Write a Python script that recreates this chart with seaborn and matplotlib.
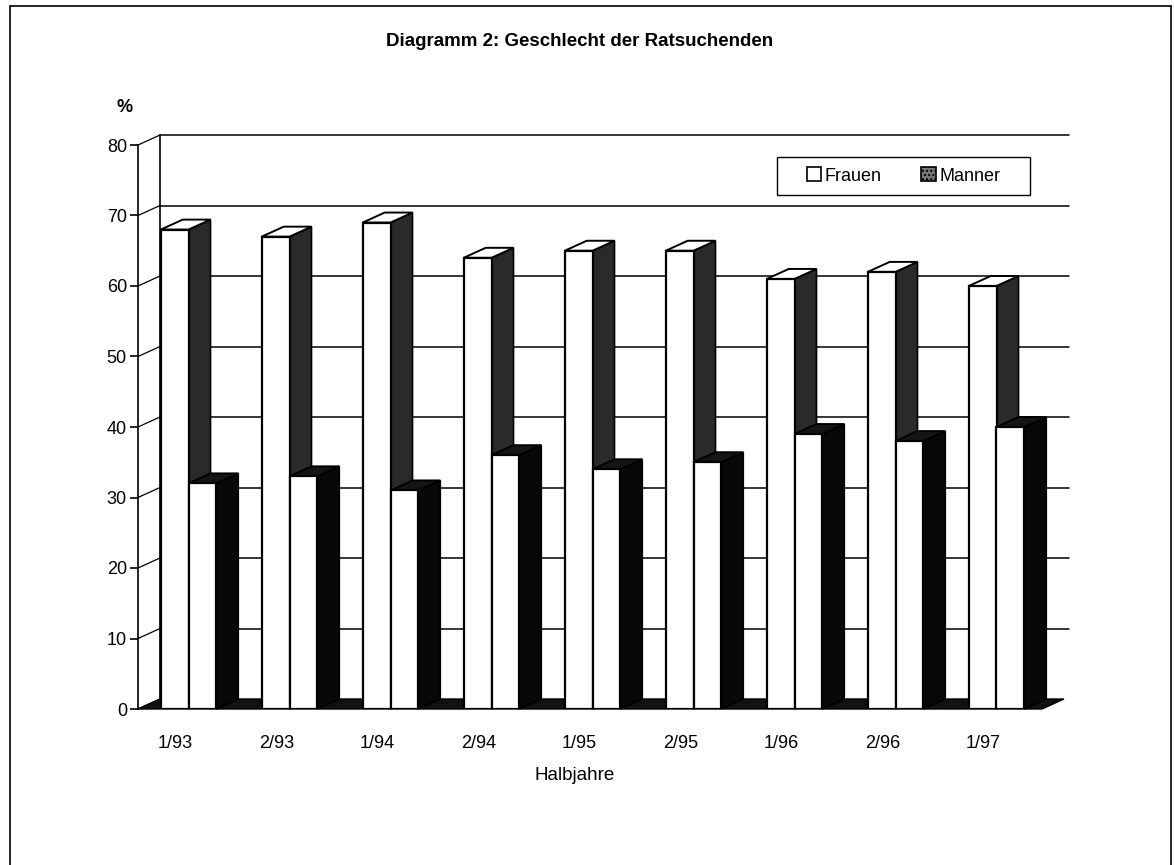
import numpy as np
import pandas as pd
import seaborn as sns
import matplotlib.pyplot as plt
from matplotlib.patches import Polygon, Patch
from matplotlib.lines import Line2D
from matplotlib.transforms import ScaledTranslation

# data
halbjahre = ['1/93', '2/93', '1/94', '2/94', '1/95', '2/95', '1/96', '2/96', '1/97']
frauen = [68, 67, 69, 64, 65, 65, 61, 62, 60]
maenner = [32, 33, 31, 36, 34, 35, 39, 38, 40]

df = pd.DataFrame({
    'Halbjahr': halbjahre * 2,
    'Prozent': frauen + maenner,
    'Geschlecht': ['Frauen'] * len(frauen) + ['Manner'] * len(maenner),
})

sns.set_style('white')
plt.rcParams['font.family'] = ['Liberation Sans', 'DejaVu Sans']
plt.rcParams['text.color'] = 'black'
plt.rcParams['xtick.color'] = 'black'
plt.rcParams['ytick.color'] = 'black'
plt.rcParams['axes.labelcolor'] = 'black'

W, H = 1174, 865
fig = plt.figure(figsize=(W / 100, H / 100), dpi=100)
ax = fig.add_axes([138 / W, (H - 709) / H, 909 / W, 564 / H])

sns.barplot(data=df, x='Halbjahr', y='Prozent', hue='Geschlecht', ax=ax,
            palette=['white', 'white'], edgecolor='black', linewidth=1.6,
            width=0.55, gap=0, legend=False, saturation=1)

ax.set_xlim(-0.5, 8.5)
ax.set_ylim(0, 80)
ax.set_yticks(range(0, 81, 10))
ax.set_xlabel('')
ax.set_ylabel('')
for s in ['top', 'right', 'bottom']:
    ax.spines[s].set_visible(False)
ax.spines['left'].set_linewidth(1.2)
ax.spines['left'].set_color('black')
ax.patch.set_alpha(0)
ax.tick_params(axis='y', direction='out', length=6, width=1.2, pad=2, labelsize=13, left=True)
ax.tick_params(axis='x', length=0, pad=19, labelsize=13)

# depth of the fake 3d effect, in pixels
dx, dy = 22, 10
fig.canvas.draw()
inv = ax.transData.inverted()


def back(x, y):
    px, py = ax.transData.transform((x, y))
    return inv.transform((px + dx, py + dy))


# back wall grid and connectors
x0, x1 = -0.5, 8.5
for v in range(0, 81, 10):
    bx0, by = back(x0, v)
    bx1, _ = back(x1, v)
    if v > 0:
        ax.plot([bx0, bx1], [by, by], color='black', lw=1.1, zorder=0.5, clip_on=False)
    ax.plot([x0, bx0], [v, by], color='black', lw=0.9, zorder=0.5, clip_on=False)
wx, wy0 = back(x0, 0)
_, wy1 = back(x0, 80)
ax.plot([wx, wx], [wy0, wy1], color='black', lw=1.2, zorder=0.5, clip_on=False)

# floor
fb0 = back(x0, 0)
fb1 = back(x1 - 0.05, 0)
ax.add_patch(Polygon([(x0, 0), (x1 - 0.05, 0), fb1, fb0], closed=True,
                     facecolor='#111111', edgecolor='black', lw=1, zorder=0.8, clip_on=False))

# sides and tops of the bars
side_colors = ['#2a2a2a', '#080808']
top_colors = ['white', '#151515']
for k, cont in enumerate(ax.containers):
    for bar in cont:
        bx = bar.get_x()
        bw = bar.get_width()
        h = bar.get_height()
        z = 2 + 2 * k
        bar.set_zorder(z + 1)
        side = [(bx + bw, 0), (bx + bw, h), back(bx + bw, h), back(bx + bw, 0)]
        top = [(bx, h), (bx + bw, h), back(bx + bw, h), back(bx, h)]
        ax.add_patch(Polygon(side, closed=True, facecolor=side_colors[k],
                             edgecolor='black', lw=1.2, zorder=z, clip_on=False))
        ax.add_patch(Polygon(top, closed=True, facecolor=top_colors[k],
                             edgecolor='black', lw=1.4, zorder=z + 0.5, clip_on=False))

# shift category labels slightly left like the original
for lab in ax.get_xticklabels():
    lab.set_transform(lab.get_transform() + ScaledTranslation(-13 / 100, 0, fig.dpi_scale_trans))

handles = [Patch(facecolor='white', edgecolor='black', lw=1.2, label='Frauen'),
           Patch(facecolor='#777777', edgecolor='black', lw=1.2, hatch='....', label='Manner')]
leg = fig.legend(handles=handles, loc='center', ncol=2, fontsize=13,
                 bbox_to_anchor=(777 / W, 1 - 195 / H, 253 / W, 38 / H),
                 bbox_transform=fig.transFigure, frameon=False,
                 handlelength=0.8, handleheight=0.8, handletextpad=0.2,
                 columnspacing=2.2, borderaxespad=0)
# legend box drawn as a plain rectangle the size of the original
fig.add_artist(plt.Rectangle((777 / W, 1 - 195 / H), 253 / W, 38 / H, transform=fig.transFigure,
                             fill=False, edgecolor='black', lw=1.0))

fig.text(580 / W, 1 - 42 / H, 'Diagramm 2: Geschlecht der Ratsuchenden',
         ha='center', va='center', fontsize=13.5, fontweight='bold')
fig.text(125 / W, 1 - 107 / H, '%', ha='center', va='center', fontsize=13, fontweight='bold')
fig.text(575 / W, 1 - 775 / H, 'Halbjahre', ha='center', va='center', fontsize=13.5)

# frame around the page
fig.add_artist(Line2D([10 / W, 10 / W], [0, 1 - 6 / H], color='black', lw=1.2))
fig.add_artist(Line2D([10 / W, 1171 / W], [1 - 6 / H, 1 - 6 / H], color='black', lw=1.2))
fig.add_artist(Line2D([1171 / W, 1171 / W], [0, 1 - 6 / H], color='black', lw=1.2))

fig.savefig('out.png', dpi=100)
